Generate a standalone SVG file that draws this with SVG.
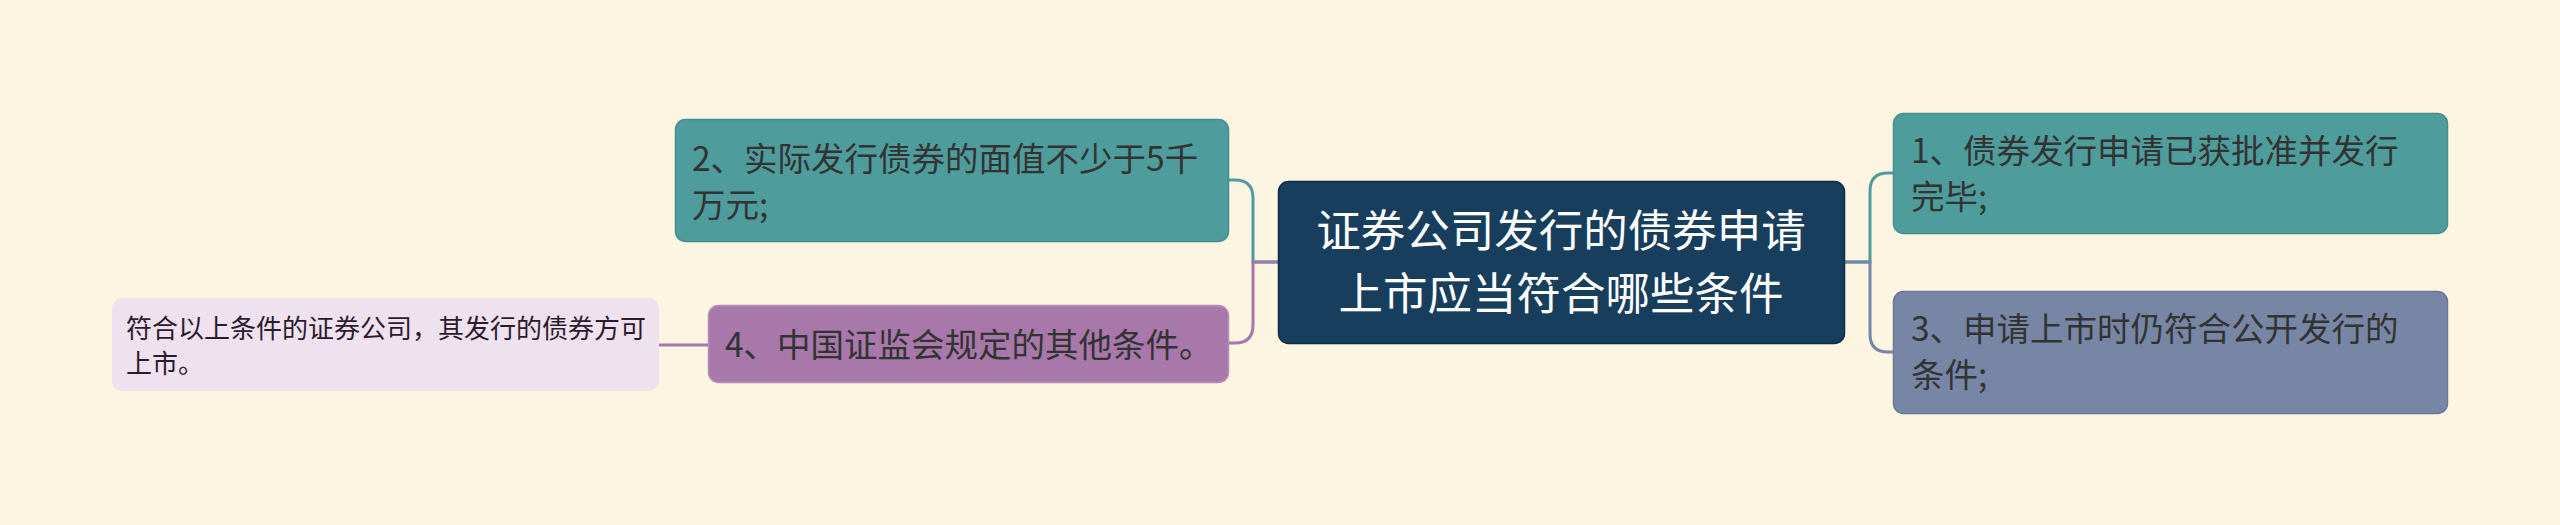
<svg xmlns="http://www.w3.org/2000/svg" width="2560" height="525" viewBox="0 0 2560 525">
<style>
text{font-family:"Noto Sans CJK SC","Noto Sans",sans-serif;}
.c{fill:none;stroke-width:3;}
.t{font-size:33.5px;fill:#333333;}
</style>
<rect width="2560" height="525" fill="#fbf5e1"/>
<g id="connectors">
<path class="c" stroke="#4e9d9c" d="M1278 262 H1253 V198 Q1253 180 1235 180 H1229"/>
<path class="c" stroke="#a778a9" d="M1278 262 H1253 V325 Q1253 343 1235 343 H1229"/>
<path class="c" stroke="#4e9d9c" d="M1845 262 H1870 V191 Q1870 173 1888 173 H1894"/>
<path class="c" stroke="#7886a6" d="M1845 262 H1870 V334 Q1870 352 1888 352 H1894"/>
<path class="c" stroke="#a778a9" d="M708 345 H658"/>
</g>
<g id="center">
<rect x="1278.5" y="181.5" width="566" height="162" rx="10" fill="#183e5e" stroke="#0f2c45" stroke-width="1.5"/>
<text x="1561" y="247" font-size="44.5" fill="#ffffff" text-anchor="middle">证券公司发行的债券申请</text>
<text x="1561" y="310" font-size="44.5" fill="#ffffff" text-anchor="middle">上市应当符合哪些条件</text>
</g>
<g id="node2">
<rect x="675.5" y="119.5" width="553" height="122" rx="10" fill="#4e9d9c" stroke="#468f8e" stroke-width="1.5"/>
<text class="t" x="692" y="171">2、实际发行债券的面值不少于5千</text>
<text class="t" x="692" y="217">万元;</text>
</g>
<g id="node4">
<rect x="708.5" y="305.5" width="520" height="77" rx="10" fill="#a778a9" stroke="#b98cbb" stroke-width="1.5"/>
<text class="t" x="725" y="357">4、中国证监会规定的其他条件。</text>
</g>
<g id="leaf">
<rect x="112" y="298" width="547" height="93" rx="10" fill="#ede2ee"/>
<text x="126" y="338" font-size="26" fill="#2e1a2e">符合以上条件的证券公司，其发行的债券方可</text>
<text x="126" y="373" font-size="26" fill="#2e1a2e">上市。</text>
</g>
<g id="node1">
<rect x="1893.5" y="113.5" width="554" height="120" rx="10" fill="#4e9d9c" stroke="#468f8e" stroke-width="1.5"/>
<text class="t" x="1911" y="163">1、债券发行申请已获批准并发行</text>
<text class="t" x="1911" y="209">完毕;</text>
</g>
<g id="node3">
<rect x="1893.5" y="291.5" width="554" height="122" rx="10" fill="#7886a6" stroke="#6b7898" stroke-width="1.5"/>
<text class="t" x="1911" y="341">3、申请上市时仍符合公开发行的</text>
<text class="t" x="1911" y="387">条件;</text>
</g>
</svg>
